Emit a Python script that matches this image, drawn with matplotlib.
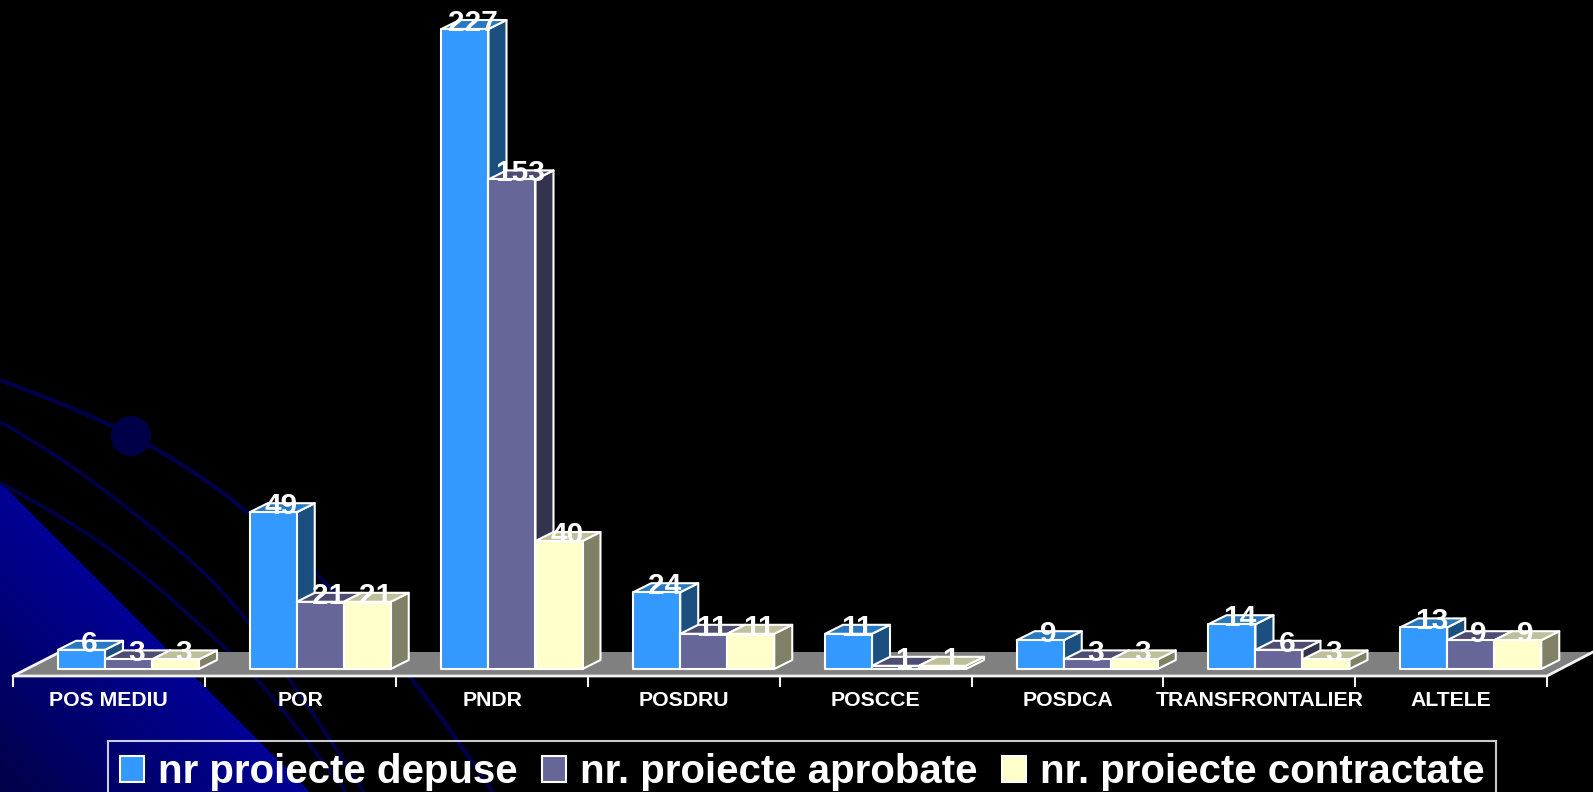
import numpy as np
import matplotlib
matplotlib.use("Agg")
import matplotlib.pyplot as plt
from matplotlib.patches import Polygon, Rectangle, PathPatch, Circle
from matplotlib.path import Path

plt.rcParams['font.family'] = ['Liberation Sans', 'DejaVu Sans']

categories = ["POS MEDIU", "POR", "PNDR", "POSDRU", "POSCCE", "POSDCA", "TRANSFRONTALIER", "ALTELE"]
depuse = [6, 49, 227, 24, 11, 9, 14, 13]
aprobate = [3, 21, 153, 11, 1, 3, 6, 9]
contractate = [3, 21, 40, 11, 1, 3, 3, 9]
series_names = ["nr proiecte depuse", "nr. proiecte aprobate", "nr. proiecte contractate"]
series_values = [depuse, aprobate, contractate]
front_colors = ["#3399FF", "#666699", "#FFFFCC"]
top_colors = ["#2878C2", "#4D4D73", "#BFBF99"]
side_colors = ["#1A4F80", "#33334D", "#808066"]
y_max = 200

W, H = 1593, 792
fig = plt.figure(figsize=(W / 100, H / 100), dpi=100, facecolor="black")

# ---------- decorative slide background (pixel coordinates) ----------
bg = fig.add_axes([0, 0, 1, 1], zorder=0)
bg.set_xlim(0, W)
bg.set_ylim(H, 0)
bg.axis("off")
yy, xx = np.mgrid[0:H, 0:W]
d = np.clip(yy - xx - 482, 0, None)   # distance below the diagonal
shade = np.clip(1 - d / 450, 0, 1)
stripes = 1 - 0.10 * (((xx + yy) // 2) % 2)
img = np.zeros((H, W, 3))
img[..., 2] = (0.15 + 0.47 * shade) * stripes
tri = Polygon([(0, 482), (310, 792), (0, 792)], closed=True, transform=bg.transData, fc="none", ec="none")
bg.add_patch(tri)
im = bg.imshow(img, extent=(0, W, H, 0), aspect="auto", interpolation="nearest", zorder=1)
im.set_clip_path(tri)


def curve(points):
    pts = np.array(points, float)
    verts = [pts[0]]
    codes = [Path.MOVETO]
    for i in range(1, len(pts) - 1):
        mid = (pts[i] + pts[i + 1]) / 2
        verts += [pts[i], mid]
        codes += [Path.CURVE3, Path.CURVE3]
    verts.append(pts[-1])
    codes.append(Path.LINETO)
    return Path(verts, codes)


arc_color = "#00004A"
for pts, lw in [
    ([(0, 380), (33, 392), (110, 424), (180, 462), (243, 507), (330, 585), (415, 680), (493, 792)], 3.0),
    ([(0, 422), (60, 455), (187, 555), (240, 610), (291, 680), (364, 792)], 2.6),
    ([(0, 483), (60, 515), (133, 565), (217, 640), (260, 680), (346, 792)], 2.6),
]:
    bg.add_patch(PathPatch(curve(pts), fc="none", ec=arc_color, lw=lw, zorder=2))
bg.add_patch(Circle((131, 436), 20, fc="#000048", ec="none", zorder=3))

# ---------- chart axes: x unit = one category, y unit = one project ----------
x0, x1 = 13, 1547
y_base, y_top = 669, 29
ax = fig.add_axes([x0 / W, 1 - y_base / H, (x1 - x0) / W, (y_base - y_top) / H], zorder=1)
ax.set_xlim(0, len(categories))
ax.set_ylim(0, y_max)
ax.patch.set_alpha(0)
for s in ax.spines.values():
    s.set_visible(False)
ax.set_yticks([])

px_x = len(categories) / (x1 - x0)          # data units per pixel
px_y = y_max / (y_base - y_top)
dx, dy = 18 * px_x, 9 * px_y
bar_w = 47 * px_x
bar_off = 45 * px_x
edge = dict(ec="white", lw=1.5, joinstyle="round", clip_on=False)

# floor
fl = -7 * px_y
fb = 17 * px_y
n = len(categories)
ax.add_patch(Polygon([(0, fl), (n, fl), (n + 46 * px_x, fb), (47 * px_x, fb)], closed=True,
                     fc="#808080", ec="none", clip_on=False, zorder=1))
ax.plot([47 * px_x, 0, n, n + 46 * px_x], [fb, fl, fl, fb], color="#F2F2F2", lw=2, clip_on=False, zorder=2)

# bars
z = 3
for c in range(n):
    for s, values in enumerate(series_values):
        h = min(values[c], y_max)
        left = c + bar_off + s * bar_w
        right = left + bar_w
        ax.add_patch(Polygon([(right, 0), (right + dx, dy), (right + dx, h + dy), (right, h)],
                             closed=True, fc=side_colors[s], zorder=z, **edge))
        ax.add_patch(Polygon([(left, h), (right, h), (right + dx, h + dy), (left + dx, h + dy)],
                             closed=True, fc=top_colors[s], zorder=z, **edge))
        ax.add_patch(Rectangle((left, 0), bar_w, h, fc=front_colors[s], zorder=z + 0.5, **edge))
        z += 1

# value labels
for c in range(n):
    for s, values in enumerate(series_values):
        h = min(values[c], y_max)
        ax.text(c + bar_off + (s + 0.5) * bar_w + 8 * px_x, h + 6 * px_y, str(values[c]),
                ha="center", va="center", color="white", fontsize=21.5, fontweight="bold",
                zorder=500, clip_on=False)

# category axis
ax.set_xticks(np.arange(n + 1))
ax.set_xticklabels([])
ax.set_xticks(np.arange(n) + 0.5, minor=True)
ax.set_xticklabels(categories, minor=True, color="white", fontsize=15.3, fontweight="bold")
ax.tick_params(axis="x", which="major", direction="out", length=8, width=1.5, color="#F2F2F2", pad=0, top=False)
ax.tick_params(axis="x", which="minor", length=0, pad=16)
ax.spines["bottom"].set_visible(False)
for t in ax.xaxis.get_majorticklines():
    t.set_transform(t.get_transform() + matplotlib.transforms.ScaledTranslation(0, -7 / 100, fig.dpi_scale_trans))

# legend (its lower edge falls outside the picture, as in the original)
handles = [Rectangle((0, 0), 1, 1, fc=front_colors[i], ec="white", lw=1.5) for i in range(3)]
leg = fig.legend(handles, series_names, ncol=3, loc="upper left",
                 bbox_to_anchor=(108 / W, 1 - 741 / H), bbox_transform=fig.transFigure,
                 frameon=True, fancybox=False, facecolor="none", edgecolor="white",
                 labelcolor="white", prop={"weight": "bold", "size": 29},
                 handlelength=0.6, handleheight=0.6, handletextpad=0.33,
                 columnspacing=0.62, borderpad=0.3, borderaxespad=0)
leg.get_frame().set_linewidth(1.5)

fig.savefig("out.png", dpi=100, facecolor="black")
